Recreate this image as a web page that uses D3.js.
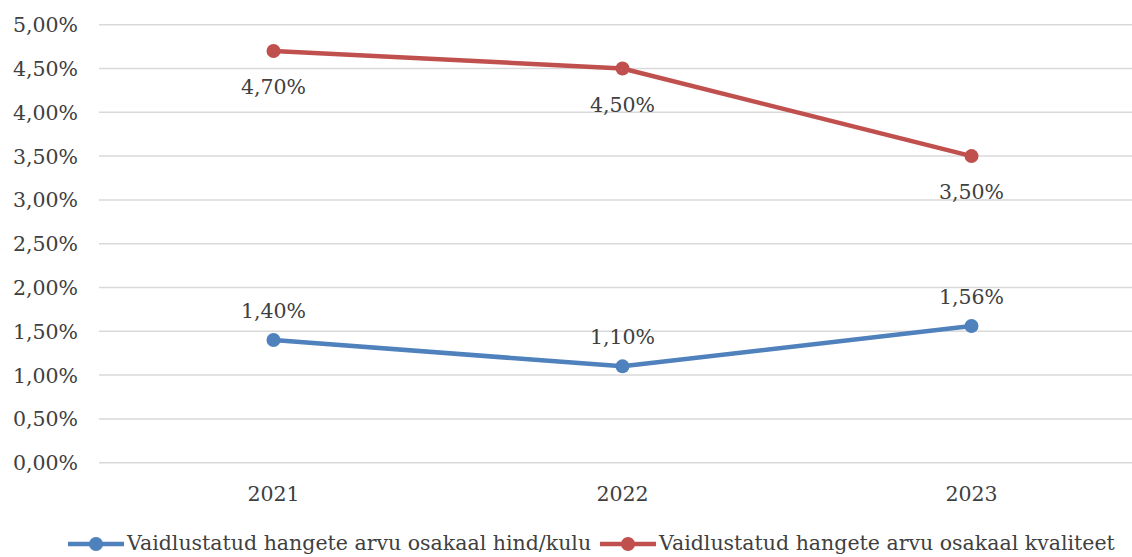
<!DOCTYPE html>
<html>
<head>
<meta charset="utf-8">
<script src="https://cdn.jsdelivr.net/npm/d3@7"></script>
<style>
  html, body { margin: 0; padding: 0; background: #fff; }
  svg { display: block; }
  text { font-family: "DejaVu Serif", "Liberation Serif", serif; fill: #404040; }
</style>
</head>
<body>
<svg id="chart" width="1132" height="557"></svg>
<script>
const years = ["2021", "2022", "2023"];
const seriesNames = [
  "Vaidlustatud hangete arvu osakaal hind/kulu",
  "Vaidlustatud hangete arvu osakaal kvaliteet"
];
const priceShare = [1.40, 1.10, 1.56];
const qualityShare = [4.70, 4.50, 3.50];
const yTicks = [0, 0.5, 1, 1.5, 2, 2.5, 3, 3.5, 4, 4.5, 5];
const colors = ["#4F81BD", "#C0504D"];

const svg = d3.select("#chart");
const fmt = v => v.toFixed(2).replace(".", ",") + "%";
const fs = 20.5;

const x = d3.scaleBand().domain(years).range([99, 1146]);
const y = d3.scaleLinear().domain([0, 5]).range([462.7, 24.7]);

// horizontal gridlines
svg.append("g").selectAll("line").data(yTicks).join("line")
  .attr("x1", 99).attr("x2", 1132)
  .attr("y1", d => y(d)).attr("y2", d => y(d))
  .attr("stroke", "#D9D9D9").attr("stroke-width", 1.5);

// y axis labels
svg.append("g").selectAll("text").data(yTicks).join("text")
  .attr("x", 78).attr("y", d => y(d) + 7.5)
  .attr("text-anchor", "end")
  .attr("font-size", fs)
  .text(fmt);

// x axis labels
svg.append("g").selectAll("text").data(years).join("text")
  .attr("x", d => x(d) + x.bandwidth() / 2).attr("y", 501)
  .attr("text-anchor", "middle")
  .attr("font-size", fs)
  .text(d => d);

const series = [
  { name: seriesNames[0], values: priceShare, color: colors[0], labelDy: -22 },
  { name: seriesNames[1], values: qualityShare, color: colors[1], labelDy: 43 }
];

const line = d3.line()
  .x((d, i) => x(years[i]) + x.bandwidth() / 2)
  .y(d => y(d));

series.forEach(s => {
  const g = svg.append("g");
  g.append("path").datum(s.values)
    .attr("d", line)
    .attr("fill", "none")
    .attr("stroke", s.color)
    .attr("stroke-width", 4.5)
    .attr("stroke-linejoin", "round");
  g.selectAll("circle").data(s.values).join("circle")
    .attr("cx", (d, i) => x(years[i]) + x.bandwidth() / 2)
    .attr("cy", d => y(d))
    .attr("r", 7)
    .attr("fill", s.color);
  g.selectAll("text").data(s.values).join("text")
    .attr("x", (d, i) => x(years[i]) + x.bandwidth() / 2)
    .attr("y", d => y(d) + s.labelDy)
    .attr("text-anchor", "middle")
    .attr("font-size", fs)
    .text(fmt);
});

// legend
const legendItems = [
  { name: seriesNames[0], color: colors[0], x0: 68 },
  { name: seriesNames[1], color: colors[1], x0: 600 }
];
const lg = svg.append("g");
legendItems.forEach(it => {
  lg.append("line")
    .attr("x1", it.x0).attr("x2", it.x0 + 56)
    .attr("y1", 544).attr("y2", 544)
    .attr("stroke", it.color).attr("stroke-width", 4.5);
  lg.append("circle")
    .attr("cx", it.x0 + 28).attr("cy", 544).attr("r", 7)
    .attr("fill", it.color);
  lg.append("text")
    .attr("x", it.x0 + 59).attr("y", 550)
    .attr("font-size", fs)
    .text(it.name);
});
</script>
</body>
</html>
